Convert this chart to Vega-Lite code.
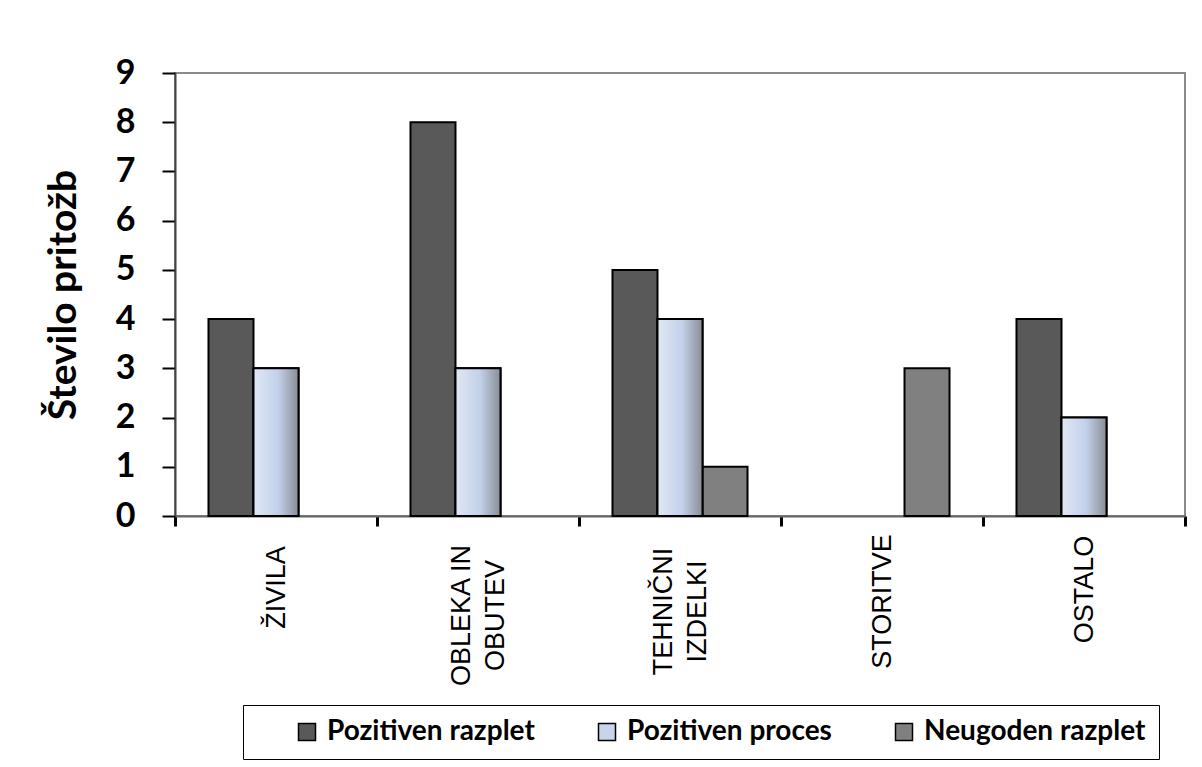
{
  "$schema": "https://vega.github.io/schema/vega-lite/v6.json",
  "width": 1010,
  "height": 443,
  "autosize": {"type": "none"},
  "padding": {"left": 175, "top": 73, "right": 17, "bottom": 251},
  "background": "white",
  "config": {
    "view": {"stroke": "#8a8a8a", "strokeWidth": 2}
  },
  "data": {
    "values": [
      {"kategorija": "ŽIVILA", "serija": "Pozitiven razplet", "vrednost": 4},
      {"kategorija": "ŽIVILA", "serija": "Pozitiven proces", "vrednost": 3},
      {"kategorija": "OBLEKA IN OBUTEV", "serija": "Pozitiven razplet", "vrednost": 8},
      {"kategorija": "OBLEKA IN OBUTEV", "serija": "Pozitiven proces", "vrednost": 3},
      {"kategorija": "TEHNIČNI IZDELKI", "serija": "Pozitiven razplet", "vrednost": 5},
      {"kategorija": "TEHNIČNI IZDELKI", "serija": "Pozitiven proces", "vrednost": 4},
      {"kategorija": "TEHNIČNI IZDELKI", "serija": "Neugoden razplet", "vrednost": 1},
      {"kategorija": "STORITVE", "serija": "Neugoden razplet", "vrednost": 3},
      {"kategorija": "OSTALO", "serija": "Pozitiven razplet", "vrednost": 4},
      {"kategorija": "OSTALO", "serija": "Pozitiven proces", "vrednost": 2}
    ]
  },
  "encoding": {
    "x": {
      "field": "kategorija",
      "type": "nominal",
      "sort": ["ŽIVILA", "OBLEKA IN OBUTEV", "TEHNIČNI IZDELKI", "STORITVE", "OSTALO"],
      "scale": {"paddingInner": 0, "paddingOuter": 0},
      "axis": {
        "title": null,
        "labelAngle": -90,
        "labelAlign": "center",
        "labelBaseline": "middle",
        "labelFont": "Liberation Sans Narrow, Liberation Sans",
        "labelFontSize": 27,
        "labelColor": "black",
        "labelOverlap": false,
        "labelLimit": 0,
        "labelLineHeight": 34,
        "labelExpr": "datum.value == 'OBLEKA IN OBUTEV' ? ['OBLEKA IN', 'OBUTEV'] : datum.value == 'TEHNIČNI IZDELKI' ? ['TEHNIČNI', 'IZDELKI'] : datum.value",
        "labelOffset": {
          "condition": [
            {"test": "datum.value == 'OBLEKA IN OBUTEV'", "value": -17},
            {"test": "datum.value == 'TEHNIČNI IZDELKI'", "value": -17}
          ],
          "value": 0
        },
        "labelPadding": {
          "condition": [
            {"test": "datum.value == 'ŽIVILA'", "value": 61},
            {"test": "datum.value == 'OBLEKA IN OBUTEV'", "value": 89},
            {"test": "datum.value == 'TEHNIČNI IZDELKI'", "value": 85},
            {"test": "datum.value == 'OSTALO'", "value": 63}
          ],
          "value": 75
        },
        "tickBand": "extent",
        "tickSize": 10,
        "tickWidth": 3,
        "tickColor": "black",
        "domainColor": "#666666",
        "domainWidth": 2
      }
    },
    "xOffset": {
      "field": "serija",
      "type": "nominal",
      "scale": {
        "domain": ["Pozitiven razplet", "Pozitiven proces", "Neugoden razplet"],
        "paddingInner": 0,
        "paddingOuter": 0.744
      }
    },
    "y": {
      "field": "vrednost",
      "type": "quantitative",
      "scale": {"domain": [0, 9], "nice": false},
      "axis": {
        "values": [0, 1, 2, 3, 4, 5, 6, 7, 8, 9],
        "grid": false,
        "title": "Število pritožb",
        "titleFont": "Lato",
        "titleFontSize": 39,
        "titleFontWeight": "bold",
        "titleColor": "black",
        "titlePadding": 32,
        "labelFont": "Lato",
        "labelFontSize": 34,
        "labelFontWeight": "bold",
        "labelColor": "black",
        "labelPadding": 27,
        "tickSize": 13,
        "tickWidth": 2,
        "tickColor": "black",
        "domainColor": "#444444",
        "domainWidth": 2
      }
    }
  },
  "layer": [
    {
      "mark": {"type": "bar", "stroke": "black", "strokeWidth": 2},
      "encoding": {
        "color": {
          "field": "serija",
          "type": "nominal",
          "scale": {
            "domain": ["Pozitiven razplet", "Pozitiven proces", "Neugoden razplet"],
            "range": ["#595959", "#c8d4ea", "#808080"]
          },
          "legend": {
            "orient": "none",
            "legendX": 68,
            "legendY": 632,
            "direction": "horizontal",
            "title": null,
            "symbolType": "square",
            "symbolSize": 289,
            "symbolStrokeColor": "black",
            "symbolStrokeWidth": 1.5,
            "symbolOpacity": 1,
            "labelFont": "Lato",
            "labelFontSize": 28,
            "labelFontWeight": "bold",
            "labelColor": "black",
            "labelOffset": 6,
            "labelLimit": 0,
            "columnPadding": 21,
            "padding": 13,
            "strokeColor": "black",
            "symbolOffset": 37
          }
        }
      }
    },
    {
      "transform": [{"filter": "datum.serija == 'Pozitiven proces'"}],
      "mark": {
        "type": "bar",
        "stroke": "black",
        "strokeWidth": 2,
        "fill": {
          "gradient": "linear", "x1": 0, "y1": 0, "x2": 1, "y2": 0,
          "stops": [
            {"offset": 0, "color": "#e0e8f4"},
            {"offset": 0.55, "color": "#c2d0ea"},
            {"offset": 1, "color": "#898e96"}
          ]
        }
      }
    }
  ]
}
